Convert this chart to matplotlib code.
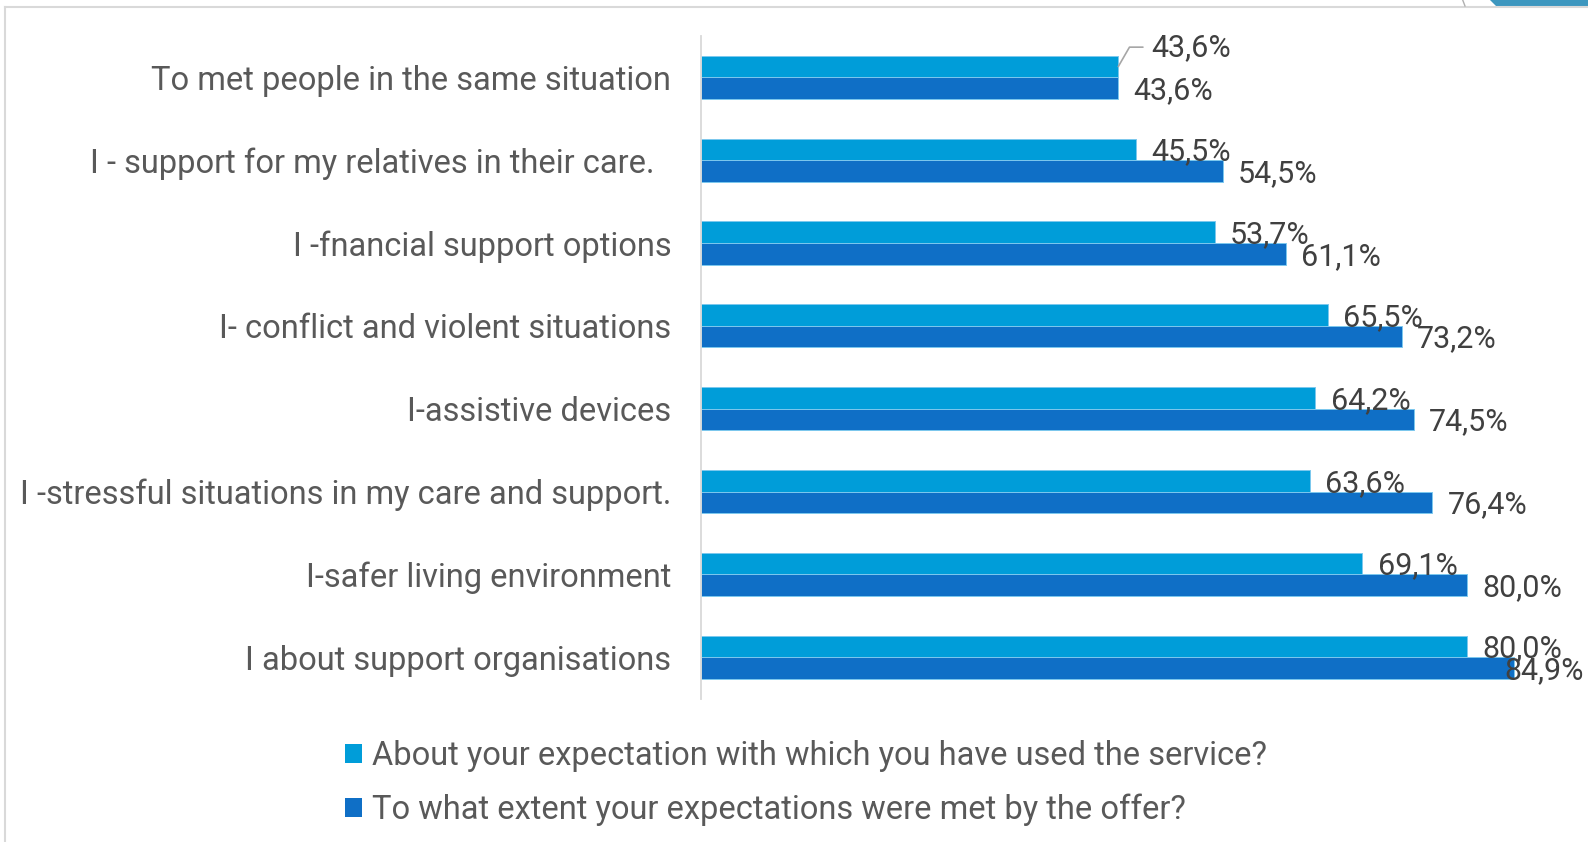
import matplotlib
matplotlib.use("Agg")
import matplotlib.pyplot as plt
from matplotlib.patches import Patch, Polygon
from matplotlib.lines import Line2D
import numpy as np

plt.rcParams['font.family'] = ['Roboto', 'DejaVu Sans']

# data
categories = ["To met people in the same situation",
              "I - support for my relatives in their care.  ",
              "I -fnancial support options",
              "I- conflict and violent situations",
              "I-assistive devices",
              "I -stressful situations in my care and support.",
              "I-safer living environment",
              "I about support organisations"]
expectation = [43.6, 45.5, 53.7, 65.5, 64.2, 63.6, 69.1, 80.0]
met = [43.6, 54.5, 61.1, 73.2, 74.5, 76.4, 80.0, 84.9]
series_names = ["About your expectation with which you have used the service?",
                "To what extent your expectations were met by the offer?"]

c_light = "#009DD9"
c_dark = "#0F6FC6"
txt_gray = "#595959"
lbl_gray = "#404040"

W, H = 1588, 842
fig = plt.figure(figsize=(W / 100, H / 100), dpi=100)
ax = fig.add_axes([701 / W, 1 - 698.7 / H, 842.2 / W, 662.8 / H])

n = len(categories)
y = np.arange(n)
h = 0.26
ax.barh(y - h / 2, expectation, height=h, color=c_light,
        edgecolor="#7cc8ee", linewidth=0.7)
ax.barh(y + h / 2, met, height=h, color=c_dark,
        edgecolor="#7cc8ee", linewidth=0.7)

ax.set_xlim(0, 88)
ax.set_ylim(n - 0.5, -0.5)
ax.set_xticks([])
ax.set_yticks(y)
ax.set_yticklabels(categories, fontsize=23.5, color=txt_gray)
ax.tick_params(axis='y', length=0, pad=21.5)
for s in ['top', 'right', 'bottom']:
    ax.spines[s].set_visible(False)
ax.spines['left'].set_color('#d9d9d9')
ax.spines['left'].set_linewidth(1.3)

# value labels (offsets in points)
px = 72 / 100
dx = 11
dy = -7.8
fig.canvas.draw()
renderer = fig.canvas.get_renderer()
for i in range(n):
    for vals, yy in ((expectation, y[i] - h / 2), (met, y[i] + h / 2)):
        v = vals[i]
        s = f"{v:.1f}%".replace(".", ",")
        if vals is expectation and i == 0:
            t = ax.annotate(s, xy=(v, yy), xytext=(33 * px, 10.9 * px),
                            textcoords="offset points", fontsize=22,
                            color=lbl_gray, va="baseline", ha="left",
                            arrowprops=dict(arrowstyle="-", color="#a6a6a6",
                                            lw=1.2, relpos=(0, 0.5),
                                            shrinkA=4, shrinkB=0,
                                            connectionstyle="angle,angleA=180,angleB=60,rad=0"))
        else:
            t = ax.annotate(s, xy=(v, yy), xytext=(dx, dy),
                            textcoords="offset points", fontsize=22,
                            color=lbl_gray, va="baseline", ha="left")
        bb = t.get_window_extent(renderer)
        if bb.x1 > W - 4:
            t.set_position((dx - (bb.x1 - (W - 4)) * px, dy))

# legend
handles = [Patch(facecolor=c_light), Patch(facecolor=c_dark)]
fig.legend(handles, series_names, loc="center left",
           bbox_to_anchor=(345 / W, 1 - 783 / H), frameon=False,
           fontsize=23.5, labelcolor=txt_gray, handlelength=0.52,
           handleheight=0.52, handletextpad=0.3, labelspacing=0.68,
           borderpad=0, borderaxespad=0)

# chart frame and cropped corner
fig.add_artist(Line2D([5 / W, 1], [1 - 6.5 / H, 1 - 6.5 / H],
                      color="#d9d9d9", lw=1.5, transform=fig.transFigure))
fig.add_artist(Line2D([5 / W, 5 / W], [0, 1 - 6.5 / H],
                      color="#d9d9d9", lw=1.5, transform=fig.transFigure))
fig.add_artist(Line2D([1462.7 / W, 1465 / W], [1, 1 - 6 / H],
                      color="#b0b0b0", lw=1, transform=fig.transFigure))
fig.add_artist(Polygon([[1490 / W, 1], [1, 1], [1, 1 - 6 / H],
                        [1496 / W, 1 - 6 / H]], closed=True,
                       facecolor="#3d97bf", edgecolor="none",
                       transform=fig.transFigure))

fig.savefig("out.png", dpi=100)
